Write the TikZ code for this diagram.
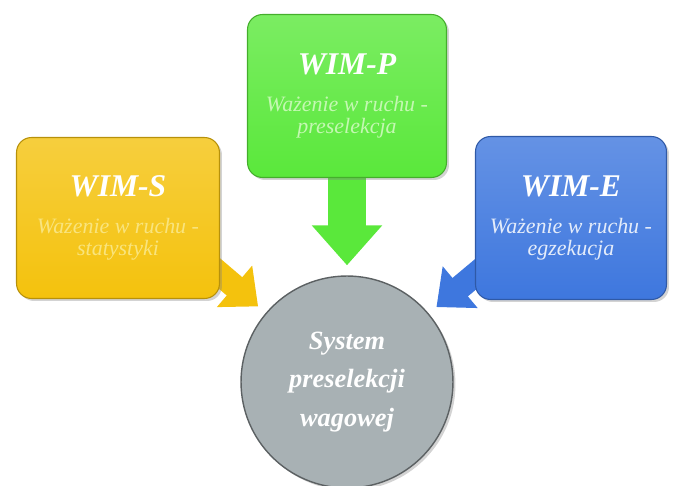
\documentclass[tikz,border=0pt]{standalone}
\usepackage{fontspec}
\setmainfont{Liberation Serif}
\usetikzlibrary{calc}
\usetikzlibrary{arrows.meta}
\usetikzlibrary{backgrounds}
\usetikzlibrary{shadows}

\definecolor{wimyellow}{HTML}{F4C20D}
\definecolor{wimyellowtxt}{HTML}{F9E47E}
\definecolor{wimgreen}{HTML}{5AE83B}
\definecolor{wimgreentxt}{HTML}{C4F8B2}
\definecolor{wimblue}{HTML}{3E77DE}
\definecolor{wimbluetxt}{HTML}{E4ECFA}
\definecolor{sysgray}{HTML}{A8B1B4}

\newcommand{\wimtitle}[1]{{\fontsize{18}{20}\selectfont\bfseries\color{white}#1}}

\begin{document}
\begin{tikzpicture}[%
  x=0.02cm, y=-0.02cm,
  wimbox/.style={rounded corners=0.3cm, draw=#1!75!black, line width=0.6pt,
    top color=#1!80!white, bottom color=#1, text=#1txt, align=center,
    font=\fontsize{12.5}{13}\selectfont\itshape,
    drop shadow={opacity=0.35, shadow xshift=0.05cm, shadow yshift=-0.05cm}},
  sysnode/.style={circle, draw=sysgray!55!black, line width=0.8pt, fill=sysgray,
    minimum size=4.24cm, text=white, align=center,
    font=\fontsize{15}{22}\selectfont\bfseries\itshape,
    drop shadow={opacity=0.35, shadow xshift=0.05cm, shadow yshift=-0.05cm}},
  blockarrow/.style={line width=#1, shorten >=0.2cm},
]

  \useasboundingbox (0,0) rectangle (680,486);

  \node[wimbox=wimyellow, minimum width=4.06cm, minimum height=3.22cm] (wims) at (118,218)
    {\wimtitle{WIM-S}\\[8pt]Ważenie w ruchu -\\statystyki};
  \node[wimbox=wimgreen, minimum width=3.98cm, minimum height=3.26cm] (wimp) at (347,96)
    {\wimtitle{WIM-P}\\[8pt]Ważenie w ruchu -\\preselekcja};
  \node[wimbox=wimblue, minimum width=3.82cm, minimum height=3.26cm] (wime) at (571,218)
    {\wimtitle{WIM-E}\\[8pt]Ważenie w ruchu -\\egzekucja};

  \node[sysnode] (sys) at (347,382) {System\\preselekcji\\wagowej};

  \coordinate (ys) at ($(wims.south east)+(-20,-42)$);
  \coordinate (bs) at ($(wime.south west)+(20,-42)$);

  \begin{scope}[on background layer]
    \draw[blockarrow=0.48cm, wimyellow, -{Triangle[length=0.62cm, width=1.05cm]}] (ys) -- (sys);
    \draw[blockarrow=0.76cm, wimgreen, -{Triangle[length=0.8cm, width=1.36cm]}] (wimp.south) -- (sys);
    \draw[blockarrow=0.48cm, wimblue, -{Triangle[length=0.62cm, width=1.05cm]}] (bs) -- (sys);
  \end{scope}

\end{tikzpicture}
\end{document}
